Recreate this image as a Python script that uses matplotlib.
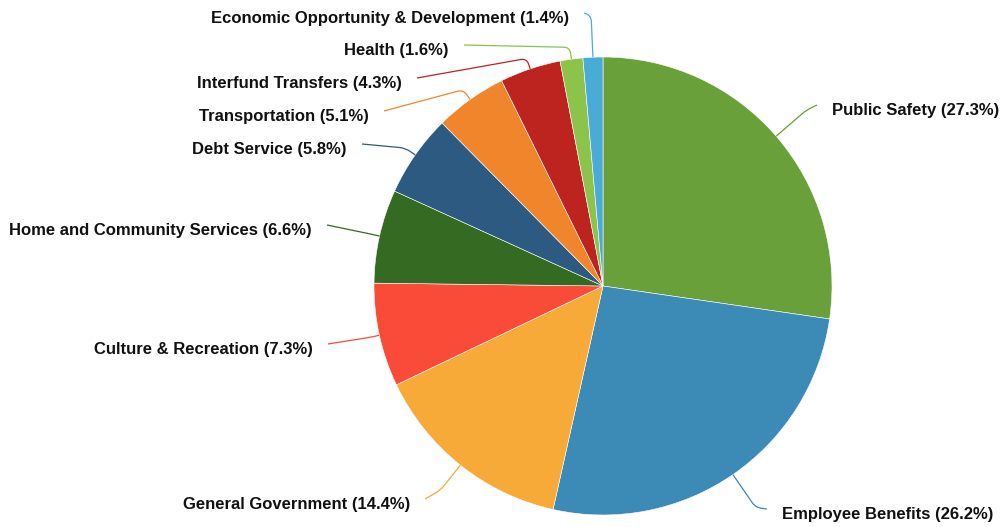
import numpy as np
import matplotlib.pyplot as plt
from matplotlib.path import Path
from matplotlib.patches import PathPatch

# Budget share by function (percent), in drawing order (clockwise from 12 o'clock)
categories = [
    "Public Safety",
    "Employee Benefits",
    "General Government",
    "Culture & Recreation",
    "Home and Community Services",
    "Debt Service",
    "Transportation",
    "Interfund Transfers",
    "Health",
    "Economic Opportunity & Development",
]
shares = [27.3, 26.2, 14.4, 7.3, 6.6, 5.8, 5.1, 4.3, 1.6, 1.4]
colors = [
    "#6aa03a", "#3c8ab6", "#f7aa37", "#f94b37", "#346a22",
    "#2c5a80", "#f1852b", "#bd231f", "#8cc34b", "#4aaad8",
]

# label placement in pixel space (x, y from top), alignment, and elbow distance
label_pos = [
    (832, 109, "left", 40),
    (782, 513, "left", 40),
    (410, 503, "right", 32),
    (313, 348, "right", 10),
    (312, 229, "right", 10),
    (347, 148, "right", 12),
    (369, 115, "right", 12),
    (402, 82, "right", 11),
    (449, 49, "right", 12),
    (569, 17, "right", 42),
]

W, H = 1001, 527
cx, cy, R = 603, H - 286, 229

plt.rcParams["font.family"] = ["Liberation Sans", "DejaVu Sans"]

fig = plt.figure(figsize=(W / 100, H / 100), dpi=100)
ax = fig.add_axes([0, 0, 1, 1])

ax.pie(shares, colors=colors, startangle=90, counterclock=False,
       center=(cx, cy), radius=R,
       wedgeprops=dict(edgecolor="white", linewidth=0.4))

ax.set_xlim(0, W)
ax.set_ylim(0, H)
ax.set_aspect("equal")
ax.axis("off")


def leader(a, b, c, color, rnd=6.0):
    a, b, c = map(np.asarray, (a, b, c))
    ab = a - b
    cb = c - b
    la, lc = np.hypot(*ab), np.hypot(*cb)
    r = min(rnd, la * 0.9, lc * 0.9)
    p1 = b + ab / la * r if la > 0 else b
    p2 = b + cb / lc * r if lc > 0 else b
    verts = [a, p1, b, p2, c]
    codes = [Path.MOVETO, Path.LINETO, Path.CURVE3, Path.CURVE3, Path.LINETO]
    ax.add_patch(PathPatch(Path(verts, codes), fill=False,
                           edgecolor=color, linewidth=0.9))


cum = 0.0
for name, val, col, (tx, ty, ha, d) in zip(categories, shares, colors, label_pos):
    mid = (cum + val / 2) / 100 * 2 * np.pi
    cum += val
    ux, uy = np.sin(mid), np.cos(mid)
    a = (cx + R * ux, cy + R * uy)
    b = (cx + (R + d) * ux, cy + (R + d) * uy)
    ex = tx - 15 if ha == "left" else tx + 15
    c = (ex, H - ty + 4)
    leader(a, b, c, col)
    ax.text(tx, H - ty - 1.5, f"{name} ({val}%)", ha=ha, va="center",
            fontsize=12, fontweight="bold", color="#111111")

fig.savefig("out.png", dpi=100)
